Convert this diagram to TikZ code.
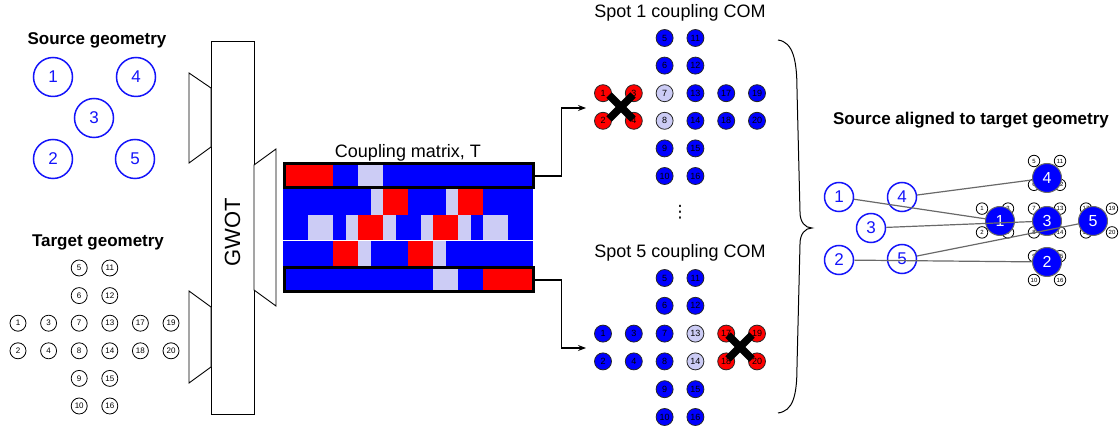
\documentclass[tikz,border=0pt]{standalone}
\usepackage{fontspec}
\setmainfont{Liberation Sans}
\newfontfamily\dejavu{DejaVu Sans}
\usetikzlibrary{arrows.meta}
\definecolor{mr}{RGB}{255,0,0}
\definecolor{mb}{RGB}{0,0,255}
\definecolor{ml}{RGB}{204,204,245}
\definecolor{srcblue}{RGB}{20,20,250}
\definecolor{lgrey}{RGB}{105,105,105}
\newcommand{\myfs}[1]{\fontsize{#1}{#1}\selectfont}
\tikzset{
  title/.style={font=\myfs{17}\bfseries},
  plain/.style={font=\myfs{18}},
  src/.style={circle, draw=srcblue, line width=1.5pt, minimum size=39pt, inner sep=0pt, text=srcblue, fill=white, font=\myfs{17}},
  rsrc/.style={src, minimum size=29pt, font=\myfs{17}},
  tgt/.style={circle, draw=black, line width=0.8pt, minimum size=16pt, inner sep=0pt, fill=white, font=\myfs{8}},
  spot/.style={circle, draw=black!85, line width=0.8pt, minimum size=17pt, inner sep=0pt, font=\myfs{9}},
  mini/.style={circle, draw=black, line width=0.8pt, minimum size=11.5pt, inner sep=0pt, fill=white, font=\myfs{6}},
  aligned/.style={circle, draw=lgrey, line width=1pt, fill=mb, minimum size=29pt, inner sep=0pt, text=white, font=\myfs{16}},
  funnel/.style={draw=black, line width=0.9pt, fill=white},
  arr/.style={draw=black, line width=1.1pt, -{Stealth[length=8pt,width=6pt]}},
  gline/.style={draw=lgrey, line width=1.2pt},
  xmark/.style={line width=7.5pt, draw=black},
  rowbox/.style={draw=black, line width=3pt, minimum width=249pt, minimum height=24pt, inner sep=0pt}
}
\begin{document}
\begin{tikzpicture}[x=1pt,y=-1pt]
\useasboundingbox (0,0) rectangle (1119,427);

% ---------- Source geometry ----------
\node[title] (srctitle) at (97,40) {Source geometry};
\node[src] (s1) at (53,77) {1};
\node[src] (s4) at (136,77) {4};
\node[src] (s3) at (94,118) {3};
\node[src] (s2) at (53,159) {2};
\node[src] (s5) at (135,159) {5};

% ---------- Target geometry ----------
\node[title] (tgttitle) at (98,242) {Target geometry};
\foreach \c/\r/\n in {0/2/1,0/3/2,1/2/3,1/3/4,2/0/5,2/1/6,2/2/7,2/3/8,2/4/9,2/5/10,3/0/11,3/1/12,3/2/13,3/3/14,3/4/15,3/5/16,4/2/17,4/3/18,5/2/19,5/3/20}
  \node[tgt] (t\n) at ({18+30.6*\c},{268+27.6*\r}) {\n};

% ---------- GWOT ----------
\draw[line width=0.9pt, fill=white] (211,41) rectangle (254,414);
\node[rotate=90, font=\myfs{22}] (gwot) at (232.5,232) {GWOT};
\draw[funnel] (211,88) -- (189,73) -- (189,163) -- (211,147) -- cycle;
\draw[funnel] (211,307) -- (189,291) -- (189,383) -- (211,367) -- cycle;
\draw[funnel] (254,165) -- (276,149) -- (276,306) -- (254,290) -- cycle;

% ---------- Coupling matrix ----------
\node[plain] (cmtitle) at (408,153) {Coupling matrix, T};
\foreach \c [count=\i from 0] in {r,r,r,r,b,b,l,l,b,b,b,b,b,b,b,b,b,b,b,b}
  \fill[fill=m\c] ({283+12.5*\i},163) rectangle ++(12.6,26);
\foreach \c [count=\i from 0] in {b,b,b,b,b,b,b,l,r,r,b,b,b,l,r,r,b,b,b,b}
  \fill[fill=m\c] ({283+12.5*\i},189) rectangle ++(12.6,26);
\foreach \c [count=\i from 0] in {b,b,l,l,b,l,r,r,l,b,b,l,r,r,l,b,l,l,b,b}
  \fill[fill=m\c] ({283+12.5*\i},215) rectangle ++(12.6,26);
\foreach \c [count=\i from 0] in {b,b,b,b,r,r,l,b,b,b,r,r,l,b,b,b,b,b,b,b}
  \fill[fill=m\c] ({283+12.5*\i},241) rectangle ++(12.6,26);
\foreach \c [count=\i from 0] in {b,b,b,b,b,b,b,b,b,b,b,b,l,l,b,b,r,r,r,r}
  \fill[fill=m\c] ({283+12.5*\i},267) rectangle ++(12.6,26);
\draw[white, line width=0.8pt] (283,240.6) -- (533,240.6);
\node[rowbox] (row1) at (408.5,176) {};
\node[rowbox] (row5) at (408.5,280) {};

% ---------- Spot 1 ----------
\node[plain] (sp1title) at (680,13) {Spot 1 coupling COM};
\foreach \c/\r/\n/\col in {0/2/1/r,0/3/2/r,1/2/3/r,1/3/4/r,2/0/5/b,2/1/6/b,2/2/7/l,2/3/8/l,2/4/9/b,2/5/10/b,3/0/11/b,3/1/12/b,3/2/13/b,3/3/14/b,3/4/15/b,3/5/16/b,4/2/17/b,4/3/18/b,5/2/19/b,5/3/20/b}
  \node[spot, fill=m\col] (sa\n) at ({603+30.8*\c},{38+27.6*\r}) {\n};
\draw[xmark] (609,95) -- (633,119);
\draw[xmark] (609,119) -- (633,95);

% ---------- Spot 5 ----------
\node[plain] (sp5title) at (680,253) {Spot 5 coupling COM};
\foreach \c/\r/\n/\col in {0/2/1/b,0/3/2/b,1/2/3/b,1/3/4/b,2/0/5/b,2/1/6/b,2/2/7/b,2/3/8/b,2/4/9/b,2/5/10/b,3/0/11/b,3/1/12/b,3/2/13/l,3/3/14/l,3/4/15/b,3/5/16/b,4/2/17/r,4/3/18/r,5/2/19/r,5/3/20/r}
  \node[spot, fill=m\col] (sb\n) at ({603+30.8*\c},{278+27.8*\r}) {\n};
\draw[xmark] (728,335) -- (752,359);
\draw[xmark] (728,359) -- (752,335);

\node[font=\dejavu\myfs{17}] (dots) at (680,212) {⋮};

% ---------- arrows ----------
\coordinate (p1) at (586,108);
\coordinate (p5) at (586,348);
\draw[arr] (row1.east) -- ++(27,0) |- (p1);
\draw[arr] (row5.east) -- ++(27,0) |- (p5);

% ---------- brace ----------
\draw[line width=1pt] (778,40) .. controls (793,42) and (797,60) .. (797,90) -- (800,212) .. controls (800,222) and (805,228) .. (812,228) .. controls (805,228) and (800,234) .. (800,244) -- (797,366) .. controls (797,396) and (793,411) .. (778,413);

% ---------- Source aligned ----------
\node[title] (altitle) at (971,120) {Source aligned to target geometry};
\node[rsrc] (r1) at (839,197) {1};
\node[rsrc] (r4) at (902,197) {4};
\node[rsrc] (r3) at (871,228) {3};
\node[rsrc] (r2) at (839,260) {2};
\node[rsrc] (r5) at (902,259) {5};
\foreach \c/\r/\n in {0/2/1,0/3/2,1/2/3,1/3/4,2/0/5,2/1/6,2/2/7,2/3/8,2/4/9,2/5/10,3/0/11,3/1/12,3/2/13,3/3/14,3/4/15,3/5/16,4/2/17,4/3/18,5/2/19,5/3/20}
  \node[mini] (m\n) at ({982+26*\c},{161+23.8*\r}) {\n};
\node[aligned] (a4) at (1047,178) {4};
\node[aligned] (a1) at (1000,221) {1};
\node[aligned] (a3) at (1047,221) {3};
\node[aligned] (a5) at (1093,221) {5};
\node[aligned] (a2) at (1047,262) {2};
\draw[gline] (r1) -- (a1);
\draw[gline] (r4) -- (a4);
\draw[gline] (r3) -- (a3);
\draw[gline] (r2) -- (a2);
\draw[gline] (r5) -- (a5);
\end{tikzpicture}
\end{document}
